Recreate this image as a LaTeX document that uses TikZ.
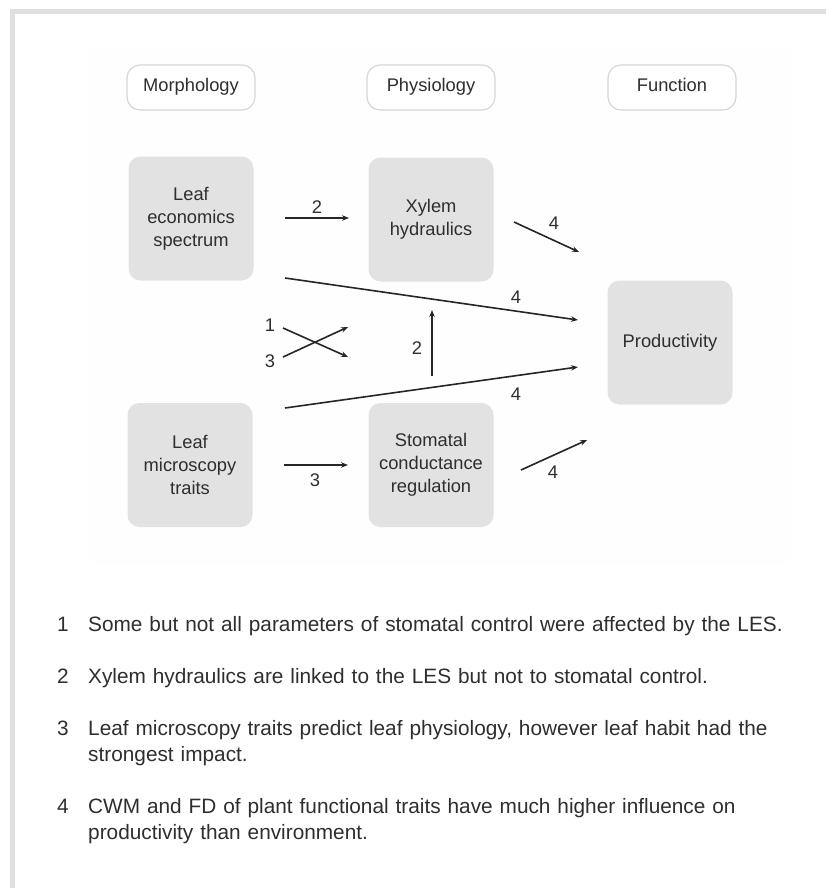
\documentclass[tikz,border=0pt]{standalone}
\usepackage{fontspec}
\setmainfont{Liberation Sans}
\usetikzlibrary{arrows.meta}

\definecolor{boxgray}{HTML}{E2E2E2}
\definecolor{pillline}{HTML}{D6D6D6}
\definecolor{framegray}{HTML}{DFDFE0}
\definecolor{inkgray}{HTML}{2E2E2E}

\tikzset{
  trait/.style={fill=boxgray, rounded corners=12pt, minimum width=125pt, minimum height=124pt,
    inner sep=0pt, align=center, text=inkgray, font=\fontsize{18.3}{23}\selectfont},
  level/.style={draw=pillline, line width=1.2pt, fill=white, rounded corners=13pt,
    minimum width=128pt, minimum height=45pt, text height=13pt, text depth=4pt,
    text=inkgray, font=\fontsize{18.3}{22}\selectfont},
  link/.style={-{Stealth[length=7pt,width=5.5pt]}, line width=1.6pt, draw=black!85},
  num/.style={inner sep=0pt, text=inkgray, font=\fontsize{18.3}{22}\selectfont},
  notekey/.style={anchor=base, inner sep=0pt, text=inkgray, font=\fontsize{20.8}{26}\selectfont},
  note/.style={anchor=base west, inner sep=0pt, text width=720pt, align=left, text=inkgray,
    font=\fontsize{20.8}{26}\selectfont}
}

\begin{document}
\begin{tikzpicture}[x=1pt,y=-1pt]
\useasboundingbox (0,0) rectangle (826,888);

\fill[framegray] (10,9) rectangle (826,14);

\fill[framegray] (10,9) rectangle (15,888);

\fill[black!0.4] (90,50) rectangle (790,565);

\node[level] (morph) at (191,87.5) {Morphology};
\node[level] (phys) at (431,87.5) {Physiology};
\node[level] (func) at (672,87.5) {Function};

\node[trait] (les) at (191,218.5) {Leaf\\economics\\spectrum};
\node[trait] (xylem) at (431,219.5) {Xylem\\hydraulics};
\node[trait] (prod) at (670,342.5) {Productivity};
\node[trait] (micro) at (190,465) {Leaf\\microscopy\\traits};
\node[trait] (stoma) at (431,465) {Stomatal\\conductance\\regulation};

\coordinate (les-a) at (285,218);
\coordinate (xyl-a) at (349,218);
\coordinate (xyl-b) at (514,222);
\coordinate (prod-a) at (579,252);
\coordinate (les-b) at (285,278);
\coordinate (prod-b) at (578,320);
\coordinate (les-c) at (283,328);
\coordinate (sto-c) at (348,357);
\coordinate (mic-c) at (283,357);
\coordinate (xyl-c) at (348,327);
\coordinate (sto-d) at (432,376);
\coordinate (xyl-d) at (432,310);
\coordinate (mic-b) at (285,408);
\coordinate (prod-c) at (578,367);
\coordinate (mic-a) at (284,465);
\coordinate (sto-a) at (348,465);
\coordinate (sto-b) at (521,470);
\coordinate (prod-d) at (587,440);

\draw[link] (les-a) -- (xyl-a);
\node[num] (n2a) at (317,207) {2};

\draw[link] (xyl-b) -- (prod-a);
\node[num] (n4a) at (554,223) {4};

\draw[link] (les-b) -- (prod-b);
\node[num] (n4b) at (516,297) {4};

\draw[link] (les-c) -- (sto-c);
\node[num] (n1) at (270,325) {1};

\draw[link] (mic-c) -- (xyl-c);
\node[num] (n3a) at (270,361) {3};

\draw[link] (sto-d) -- (xyl-d);
\node[num] (n2b) at (417,348) {2};

\draw[link] (mic-b) -- (prod-c);
\node[num] (n4c) at (516,394) {4};

\draw[link] (mic-a) -- (sto-a);
\node[num] (n3b) at (315,480) {3};

\draw[link] (sto-b) -- (prod-d);
\node[num] (n4d) at (553,472) {4};

\node[notekey] (k1) at (63,631) {1};
\node[note] (t1) at (88,631) {Some but not all parameters of stomatal control were affected by the LES.};

\node[notekey] (k2) at (63,683) {2};
\node[note] (t2) at (88,683) {Xylem hydraulics are linked to the LES but not to stomatal control.};

\node[notekey] (k3) at (63,735) {3};
\node[note] (t3) at (88,735) {Leaf microscopy traits predict leaf physiology, however leaf habit had the\\strongest impact.};

\node[notekey] (k4) at (63,813) {4};
\node[note] (t4) at (88,813) {CWM and FD of plant functional traits have much higher influence on\\productivity than environment.};
\end{tikzpicture}
\end{document}
